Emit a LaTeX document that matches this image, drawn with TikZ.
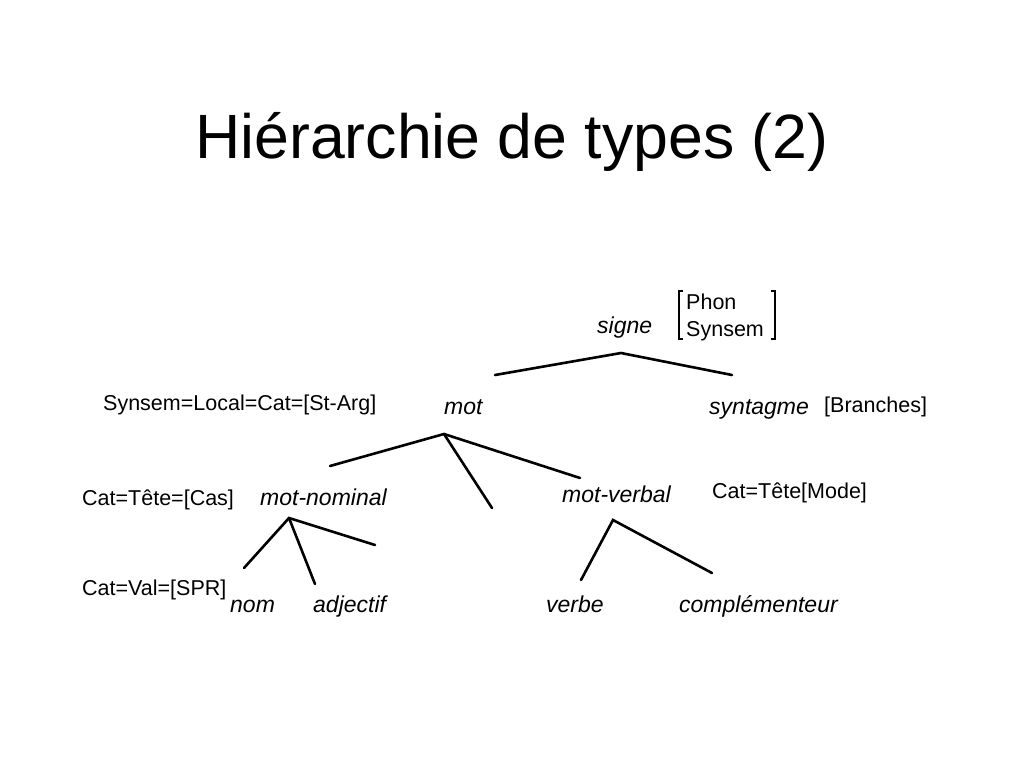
\documentclass[tikz,border=0pt]{standalone}
\usepackage{fontspec}
\setmainfont{Liberation Sans}
\begin{document}
\begin{tikzpicture}[x=1pt,y=-1pt,
  lbl/.style={inner sep=0pt,anchor=base west,font=\fontsize{21.5}{25}\selectfont},
  typ/.style={inner sep=0pt,anchor=base west,font=\fontsize{23}{27}\selectfont\itshape},
  edge/.style={line width=2.6pt,line cap=round}]
\useasboundingbox[fill=white] (0,0) rectangle (1024,768);
\node[inner sep=0pt,anchor=base,font=\fontsize{62.6}{70}\selectfont] (title) at (512,158) {Hiérarchie de types (2)};

% type labels
\node[typ] (signe) at (597,333) {signe};
\node[typ] (mot) at (444,414) {mot};
\node[typ] (syntagme) at (709,414) {syntagme};
\node[typ] (motnom) at (260,505) {mot-nominal};
\node[typ] (motverb) at (562,502) {mot-verbal};
\node[typ] (nom) at (230,612) {nom};
\node[typ] (adjectif) at (313,612) {adjectif};
\node[typ] (verbe) at (546,612) {verbe};
\node[typ] (compl) at (679,612) {complémenteur};

% feature labels
\node[lbl] (phon) at (686,309) {Phon};
\node[lbl] (synsem) at (686,336) {Synsem};
\node[lbl] (branches) at (824,412) {[Branches]};
\node[lbl] (stcat) at (103,410) {Synsem=Local=Cat=[St-Arg]};
\node[lbl] (cas) at (82,505) {Cat=Tête=[Cas]};
\node[lbl] (mode) at (712,498) {Cat=Tête[Mode]};
\node[lbl] (spr) at (82,595) {Cat=Val=[SPR]};

% brackets
\draw[line width=1.6pt] (683,291) -- (679,291) -- (679,339) -- (683,339);
\draw[line width=1.6pt] (771,291) -- (775,291) -- (775,339) -- (771,339);

% tree coordinates
\coordinate (aS) at (621,353);
\coordinate (s1) at (495,375);
\coordinate (s2) at (732,375);
\coordinate (aM) at (444,434);
\coordinate (m1) at (330,466);
\coordinate (m2) at (492,508);
\coordinate (m3) at (580,478);
\coordinate (aN) at (289,518);
\coordinate (n1) at (244,568);
\coordinate (n2) at (315,584);
\coordinate (n3) at (375,545);
\coordinate (aV) at (613,520);
\coordinate (v1) at (581,580);
\coordinate (v2) at (712,573);

\draw[edge] (s1) -- (aS) -- (s2);
\draw[edge] (m1) -- (aM) -- (m3);
\draw[edge] (aM) -- (m2);
\draw[edge] (n1) -- (aN) -- (n3);
\draw[edge] (aN) -- (n2);
\draw[edge] (v1) -- (aV) -- (v2);
\end{tikzpicture}
\end{document}
